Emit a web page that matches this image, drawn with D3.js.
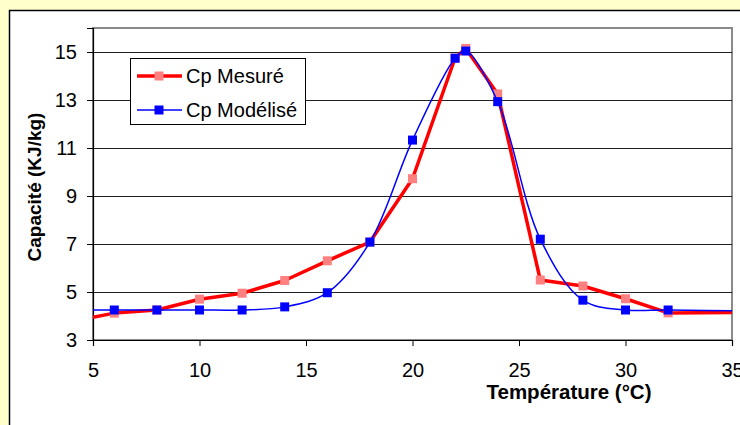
<!DOCTYPE html>
<html><head><meta charset="utf-8">
<script src="https://cdn.jsdelivr.net/npm/d3@7"></script>
<style>html,body{margin:0;padding:0;background:#FFFFCC;}svg{display:block;}</style>
</head><body>
<svg id="c" width="740" height="425"></svg>
<script>
// Data (points at 4 and 36 lie just outside the axis and are clipped)
const tempMesure = [4, 6, 8, 10, 12, 14, 16, 18, 20, 22, 22.5, 24, 26, 28, 30, 32, 36];
const cpMesure   = [3.78, 4.12, 4.25, 4.7, 4.95, 5.48, 6.3, 7.08, 9.72, 14.75, 15.15, 13.25, 5.5, 5.25, 4.72, 4.13, 4.15];
const tempModele = [4, 6, 8, 10, 12, 14, 16, 18, 20, 22, 22.5, 24, 26, 28, 30, 32, 36];
const cpModele   = [4.25, 4.25, 4.25, 4.25, 4.25, 4.38, 4.97, 7.08, 11.33, 14.74, 15.04, 12.93, 7.2, 4.66, 4.25, 4.25, 4.2];
const xTicks = [5, 10, 15, 20, 25, 30, 35];
const yTicks = [3, 5, 7, 9, 11, 13, 15];
const seriesNames = ["Cp Mesuré", "Cp Modélisé"];
const xTitle = "Température (°C)";
const yTitle = "Capacité (KJ/kg)";

const svg = d3.select("#c");
const font = "Arial, 'Liberation Sans', sans-serif";

// chart area
svg.append("rect").attr("x", 9.5).attr("y", 10.5).attr("width", 800).attr("height", 500)
  .attr("fill", "#fff").attr("stroke", "#000").attr("stroke-width", 1.5);

const x = d3.scaleLinear().domain([5, 35]).range([93, 732]);
const y = d3.scaleLinear().domain([3, 16]).range([340, 28]);

// plot area border (gray)
svg.append("rect").attr("x", x(5)).attr("y", y(16)).attr("width", x(35) - x(5)).attr("height", y(3) - y(16))
  .attr("fill", "#fff").attr("stroke", "#8a8a8a").attr("stroke-width", 2);

// gridlines
svg.append("g").selectAll("line").data(yTicks.filter(d => d > 3)).join("line")
  .attr("x1", x(5)).attr("x2", x(35)).attr("y1", d => Math.round(y(d)) + 0.5).attr("y2", d => Math.round(y(d)) + 0.5)
  .attr("stroke", "#222").attr("stroke-width", 1);

// axes
const xAxis = d3.axisBottom(x).tickValues(xTicks).tickSize(6).tickPadding(17).tickFormat(d3.format("d"));
const gx = svg.append("g").attr("transform", `translate(0,${y(3)})`).call(xAxis);
gx.select(".domain").attr("stroke", "#000").attr("stroke-width", 1.2);
gx.selectAll(".tick line").attr("stroke", "#000");
gx.selectAll("text").attr("font-family", font).attr("font-size", 20).attr("fill", "#000");

const yAxis = d3.axisLeft(y).tickValues(yTicks).tickSize(6).tickPadding(10).tickFormat(d3.format("d"));
const gy = svg.append("g").attr("transform", `translate(${x(5)},0)`).call(yAxis);
gy.select(".domain").attr("stroke", "#000").attr("stroke-width", 1.2);
gy.selectAll(".tick line").attr("stroke", "#000");
gy.selectAll("text").attr("font-family", font).attr("font-size", 20).attr("fill", "#000");

// clip
svg.append("clipPath").attr("id", "clip").append("rect")
  .attr("x", x(5)).attr("y", y(16)).attr("width", x(35) - x(5)).attr("height", y(3) - y(16));
const plot = svg.append("g").attr("clip-path", "url(#clip)");

const mesure = tempMesure.map((t, i) => [t, cpMesure[i]]);
const modele = tempModele.map((t, i) => [t, cpModele[i]]);

const lineLin = d3.line().x(d => x(d[0])).y(d => y(d[1]));
const lineSmooth = d3.line().x(d => x(d[0])).y(d => y(d[1])).curve(d3.curveCatmullRom.alpha(0.5));

plot.append("path").datum(mesure).attr("d", lineLin).attr("fill", "none")
  .attr("stroke", "#FF0000").attr("stroke-width", 3.5).attr("stroke-linejoin", "round");
plot.append("g").selectAll("rect").data(mesure).join("rect")
  .attr("x", d => x(d[0]) - 4.5).attr("y", d => y(d[1]) - 4.5).attr("width", 9).attr("height", 9)
  .attr("fill", "#FF8080");

plot.append("path").datum(modele).attr("d", lineSmooth).attr("fill", "none")
  .attr("stroke", "#0000FF").attr("stroke-width", 1.5);
plot.append("g").selectAll("rect").data(modele).join("rect")
  .attr("x", d => x(d[0]) - 4.5).attr("y", d => y(d[1]) - 4.5).attr("width", 9).attr("height", 9)
  .attr("fill", "#0000FF");

// axis titles
svg.append("text").attr("x", 569).attr("y", 399).attr("text-anchor", "middle")
  .attr("font-family", font).attr("font-weight", "bold").attr("font-size", 20.5).text(xTitle);
svg.append("text").attr("transform", "translate(41,187) rotate(-90)").attr("text-anchor", "middle")
  .attr("font-family", font).attr("font-weight", "bold").attr("font-size", 19).text(yTitle);

// legend
const lg = svg.append("g");
lg.append("rect").attr("x", 130.5).attr("y", 58.5).attr("width", 175).attr("height", 66)
  .attr("fill", "#fff").attr("stroke", "#000").attr("stroke-width", 1);
const legStyles = [
  {stroke: "#FF0000", sw: 3.5, fill: "#FF8080", cy: 76},
  {stroke: "#0000FF", sw: 1.5, fill: "#0000FF", cy: 110}
];
seriesNames.forEach((name, i) => {
  const s = legStyles[i];
  lg.append("line").attr("x1", 137).attr("x2", 182).attr("y1", s.cy).attr("y2", s.cy)
    .attr("stroke", s.stroke).attr("stroke-width", s.sw);
  lg.append("rect").attr("x", 159 - 4.5).attr("y", s.cy - 4.5).attr("width", 9).attr("height", 9).attr("fill", s.fill);
  lg.append("text").attr("x", 186).attr("y", s.cy + 7).attr("font-family", font).attr("font-size", 20)
    .attr("fill", "#000").text(name);
});
</script>
</body></html>
